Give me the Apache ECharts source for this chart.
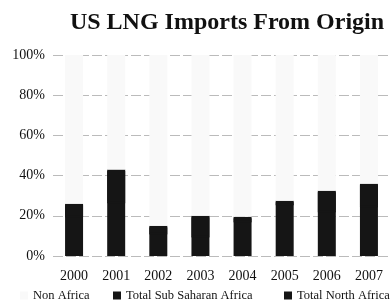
<!DOCTYPE html>
<html>
<head>
<meta charset="utf-8">
<script src="https://cdn.jsdelivr.net/npm/echarts@6/dist/echarts.min.js"></script>
<style>html,body{margin:0;padding:0;background:#fff}#c{width:392px;height:307px}</style>
</head>
<body>
<div id="c"></div>
<script>
var years = ['2000','2001','2002','2003','2004','2005','2006','2007'];
var nonAfrica = [74, 57, 85, 80, 80.5, 72.5, 67.5, 64];
var subSaharan = [6, 16, 3.5, 10, 2, 1.5, 10, 11];
var northAfrica = [20, 27, 11.5, 10, 17.5, 26, 22.5, 25];
var yTicks = [0, 20, 40, 60, 80, 100];
var seriesNames = ['Non Africa', 'Total Sub Saharan Africa', 'Total North Africa'];

var FONT = 'Liberation Serif';
var legendStyle = {fontFamily: FONT, fontSize: 12.5, color: '#111'};
function leg(name, left) {
  return {data: [name], left: left, bottom: 0, icon: 'rect', itemWidth: 8, itemHeight: 8, itemGap: 4,
          textStyle: legendStyle, selectedMode: false};
}
var chart = echarts.init(document.getElementById('c'), null, {renderer: 'canvas'});
chart.setOption({
  animation: false,
  backgroundColor: '#fff',
  title: {
    text: 'US LNG Imports From Origin',
    left: 222, top: 6, textAlign: 'center',
    textStyle: {fontFamily: FONT, fontWeight: 'bold', fontSize: 24, color: '#111'}
  },
  legend: [leg(seriesNames[0], 15), leg(seriesNames[1], 108), leg(seriesNames[2], 279)],
  grid: {left: 53, right: 2, top: 55, bottom: 51},
  xAxis: {
    type: 'category', data: years,
    axisLine: {show: false}, axisTick: {show: false},
    axisLabel: {fontFamily: FONT, fontSize: 14, color: '#111', margin: 13}
  },
  yAxis: {
    type: 'value', min: yTicks[0], max: yTicks[yTicks.length - 1], interval: 20,
    axisLabel: {formatter: '{value}%', fontFamily: FONT, fontSize: 14, color: '#111', margin: 8},
    splitLine: {lineStyle: {color: '#bbb', type: [10, 3], width: 1}}
  },
  series: [
    {name: seriesNames[2], type: 'bar', stack: 's', data: northAfrica, barWidth: 18,
     itemStyle: {color: '#151515'}},
    {name: seriesNames[1], type: 'bar', stack: 's', data: subSaharan, barWidth: 18,
     itemStyle: {color: '#151515', shadowColor: '#151515', shadowBlur: 0, shadowOffsetY: 1.5}},
    {name: seriesNames[0], type: 'bar', stack: 's', data: nonAfrica, barWidth: 18, itemStyle: {color: '#f9f9f9'}}
  ]
});
</script>
</body>
</html>
